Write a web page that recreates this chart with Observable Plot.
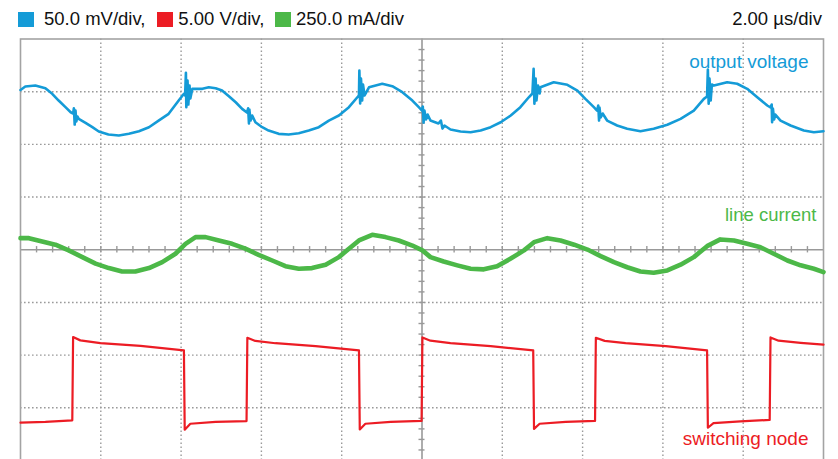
<!DOCTYPE html>
<html>
<head>
<meta charset="utf-8">
<script src="https://cdn.jsdelivr.net/npm/d3@7"></script>
<script src="https://cdn.jsdelivr.net/npm/@observablehq/plot@0.6"></script>
<style>
  html, body { margin: 0; padding: 0; background: #fff; overflow: hidden; }
  #wrap { position: relative; width: 838px; height: 459px; font-family: "Liberation Sans", Arial, Helvetica, sans-serif; }
  .hdr { position: absolute; font-size: 18.5px; line-height: 18.5px; color: #111; white-space: nowrap; }
  .sw { position: absolute; width: 15.5px; height: 15px; }
  #chart { position: absolute; left: 0; top: 0; }
</style>
</head>
<body>
<div id="wrap">
  <div id="chart"></div>
</div>
<script>
// ---- channel settings ----
const channelNames = ["output voltage", "line current", "switching node"];
const scaleLabels = ["50.0 mV/div,", "5.00 V/div,", "250.0 mA/div"];
const timebaseLabel = "2.00 \u00b5s/div";
const voltsPerDivOut = 50;    // mV/div
const voltsPerDivSw = 5;      // V/div
const ampsPerDivCur = 250;    // mA/div
const offsetOutDiv = 2.65;    // channel position (div)
const offsetCurDiv = 0;
const offsetSwDiv = -3.25;

// ---- output voltage (time µs, mV ripple) ----
const outT = [0,0.12,0.37,0.62,0.79,0.95,1.12,1.25,1.31,1.33,1.35,1.37,1.39,1.42,1.45,1.62,1.79,1.95,2.19,2.45,2.70,2.95,3.20,3.44,3.69,3.94,4.07,4.10,4.12,4.13,4.16,4.18,4.21,4.23,4.28,4.53,4.69,4.86,5.02,5.19,5.36,5.52,5.64,5.67,5.69,5.70,5.73,5.77,5.85,6.02,6.18,6.43,6.68,6.93,7.18,7.43,7.68,7.93,8.18,8.39,8.43,8.44,8.46,8.48,8.51,8.53,8.57,8.68,9.01,9.26,9.51,9.76,9.92,10.00,10.02,10.04,10.06,10.10,10.14,10.21,10.41,10.47,10.51,10.56,10.71,10.96,11.21,11.46,11.71,11.96,12.21,12.45,12.66,12.75,12.78,12.80,12.83,12.85,12.89,12.93,12.95,13.28,13.62,13.87,14.07,14.28,14.36,14.39,14.41,14.42,14.45,14.50,14.61,14.86,15.11,15.44,15.77,16.11,16.44,16.77,17.02,17.10,17.12,17.14,17.16,17.19,17.22,17.27,17.60,17.85,18.10,18.35,18.60,18.68,18.71,18.72,18.74,18.77,18.80,18.93,19.18,19.51,19.76,20.00];
const outMv = [19.1,22.4,23.3,20.8,15.5,9.1,2.8,-2.0,-3.2,1.8,-13.7,-0.4,-10.8,-6.1,-8.3,-12.1,-16.2,-20.3,-23.2,-24.1,-22.5,-20.0,-16.2,-9.9,-3.5,9.1,15.5,13.9,35.4,2.8,28.1,5.3,23.3,11.0,20.2,20.2,21.7,20.8,18.6,13.2,7.5,1.2,-2.3,1.8,-12.7,0.6,-9.9,-5.1,-11.5,-16.2,-19.4,-22.5,-23.2,-21.9,-19.4,-16.2,-9.9,-5.1,2.8,12.2,13.9,37.6,6.3,30.0,9.1,24.3,13.9,21.7,25.0,22.7,17.0,9.1,2.8,-0.4,3.4,-11.8,-0.4,-8.9,-4.2,-9.9,-12.7,-9.9,-17.5,-14.6,-18.4,-20.3,-21.0,-19.4,-16.2,-11.5,-5.1,2.8,12.2,15.8,39.2,6.0,30.0,9.1,23.3,15.8,21.7,26.5,24.0,18.6,10.7,2.8,-0.4,4.4,-9.9,2.5,-7.0,-3.2,-9.9,-14.6,-17.7,-20.0,-17.7,-13.9,-8.3,-0.4,10.7,12.9,38.5,6.0,30.0,9.1,24.3,23.3,26.5,25.0,20.2,12.2,4.4,2.5,5.3,-11.5,1.5,-8.9,-4.2,-9.9,-14.6,-19.4,-21.0,-20.0];

// ---- line current (time µs, mA) ----
const curT = [0,0.21,0.54,0.87,1.20,1.54,1.87,2.20,2.53,2.86,3.20,3.53,3.86,4.11,4.36,4.61,4.94,5.27,5.60,5.93,6.27,6.60,6.93,7.26,7.60,7.93,8.18,8.43,8.76,9.09,9.42,9.76,10.01,10.21,10.54,10.88,11.21,11.54,11.87,12.20,12.54,12.79,13.12,13.45,13.79,14.12,14.45,14.78,15.11,15.44,15.77,16.11,16.44,16.77,17.10,17.43,17.77,18.10,18.43,18.76,19.10,19.43,19.76,20.00];
const curMa = [55,55,39,24,-3,-35,-66,-87,-103,-103,-87,-59,-19,28,60,60,44,28,5,-24,-51,-78,-90,-87,-71,-35,5,44,71,60,44,20,-3,-35,-56,-74,-90,-93,-78,-43,-3,36,55,44,24,1,-30,-59,-83,-103,-109,-98,-71,-35,17,49,44,28,12,-19,-51,-74,-90,-106];

// ---- switching node (time µs, V) ----
const swT = [0,0.62,1.29,1.31,1.49,1.99,2.99,4.07,4.09,4.23,4.86,5.63,5.65,5.85,6.35,7.35,8.43,8.45,8.59,9.22,9.99,10.01,10.21,10.71,11.71,12.77,12.79,12.93,13.58,14.31,14.33,14.55,15.07,16.07,17.10,17.12,17.26,17.93,18.66,18.68,18.88,19.43,20.00];
const swV = [-0.16,-0.09,0.06,7.96,7.65,7.39,7.13,6.70,-0.83,-0.26,-0.09,-0.01,7.90,7.60,7.38,7.11,6.70,-0.80,-0.26,-0.09,0.01,7.93,7.62,7.39,7.11,6.70,-0.75,-0.26,-0.09,0.01,7.90,7.60,7.38,7.11,6.70,-0.64,-0.20,-0.04,0.10,7.93,7.62,7.41,7.24];

const colors = {out: "#149bd7", cur: "#4cb848", sw: "#ec1c24"};

const outData = outT.map((t, i) => ({t, div: offsetOutDiv + outMv[i] / voltsPerDivOut}));
const curData = curT.map((t, i) => ({t, div: offsetCurDiv + curMa[i] / ampsPerDivCur}));
const swData = swT.map((t, i) => ({t, div: offsetSwDiv + swV[i] / voltsPerDivSw}));

const majorX = d3.range(2, 20, 2).filter(v => v !== 10);
const majorY = d3.range(-3, 4, 1).filter(v => v !== 0);
const minorX = d3.range(0.4, 20, 0.4);
const minorY = d3.range(-3.8, 4, 0.2);

const gridStyle = {stroke: "#9a9a9a", strokeWidth: 1.4, strokeDasharray: "1.6,2.4"};

const chart = Plot.plot({
  width: 838,
  height: 462,
  marginLeft: 20,
  marginRight: 15,
  marginTop: 38.5,
  marginBottom: 2,
  x: {domain: [0, 20], axis: null},
  y: {domain: [-4, 4], axis: null},
  style: {background: "transparent", fontFamily: "'Liberation Sans', Arial, Helvetica, sans-serif"},
  marks: [
    Plot.ruleX(majorX, gridStyle),
    Plot.ruleY(majorY, gridStyle),
    Plot.ruleX([10], {stroke: "#999", strokeWidth: 1.6}),
    Plot.ruleY([0], {stroke: "#999", strokeWidth: 1.6}),
    Plot.ruleX(minorX, {y1: -0.06, y2: 0.06, stroke: "#999", strokeWidth: 1.4}),
    Plot.ruleY(minorY, {x1: 9.925, x2: 10.075, stroke: "#999", strokeWidth: 1.4}),
    Plot.frame({stroke: "#a3a3a3", strokeWidth: 1.6}),
    Plot.line(curData, {x: "t", y: "div", stroke: colors.cur, strokeWidth: 4.6, curve: "linear"}),
    Plot.line(outData, {x: "t", y: "div", stroke: colors.out, strokeWidth: 2.6, curve: "linear"}),
    Plot.line(swData, {x: "t", y: "div", stroke: colors.sw, strokeWidth: 2.2, curve: "linear"}),
    Plot.text([channelNames[0]], {frameAnchor: "top-right", dx: -15, dy: 29, textAnchor: "end", lineAnchor: "bottom", fill: colors.out, fontSize: 19}),
    Plot.text([channelNames[1]], {frameAnchor: "right", dx: -7, dy: -28.5, textAnchor: "end", lineAnchor: "bottom", fill: colors.cur, fontSize: 18.5}),
    Plot.text([channelNames[2]], {frameAnchor: "bottom-right", dx: -15, dy: -16, textAnchor: "end", lineAnchor: "bottom", fill: colors.sw, fontSize: 19})
  ]
});
document.getElementById("chart").appendChild(chart);

// header: channel legend + timebase
const wrap = document.getElementById("wrap");
const swatchLeft = [18, 157.3, 275];
const textLeft = [44, 178.3, 296];
const swatchColors = [colors.out, colors.sw, colors.cur];
scaleLabels.forEach((lab, i) => {
  const s = document.createElement("div");
  s.className = "sw";
  s.style.left = swatchLeft[i] + "px";
  s.style.top = "11.5px";
  s.style.background = swatchColors[i];
  wrap.appendChild(s);
  const t = document.createElement("div");
  t.className = "hdr";
  t.style.left = textLeft[i] + "px";
  t.style.top = "10px";
  t.textContent = lab;
  wrap.appendChild(t);
});
const tb = document.createElement("div");
tb.className = "hdr";
tb.style.right = (838 - 822) + "px";
tb.style.top = "10px";
tb.textContent = timebaseLabel;
wrap.appendChild(tb);
</script>
</body>
</html>
